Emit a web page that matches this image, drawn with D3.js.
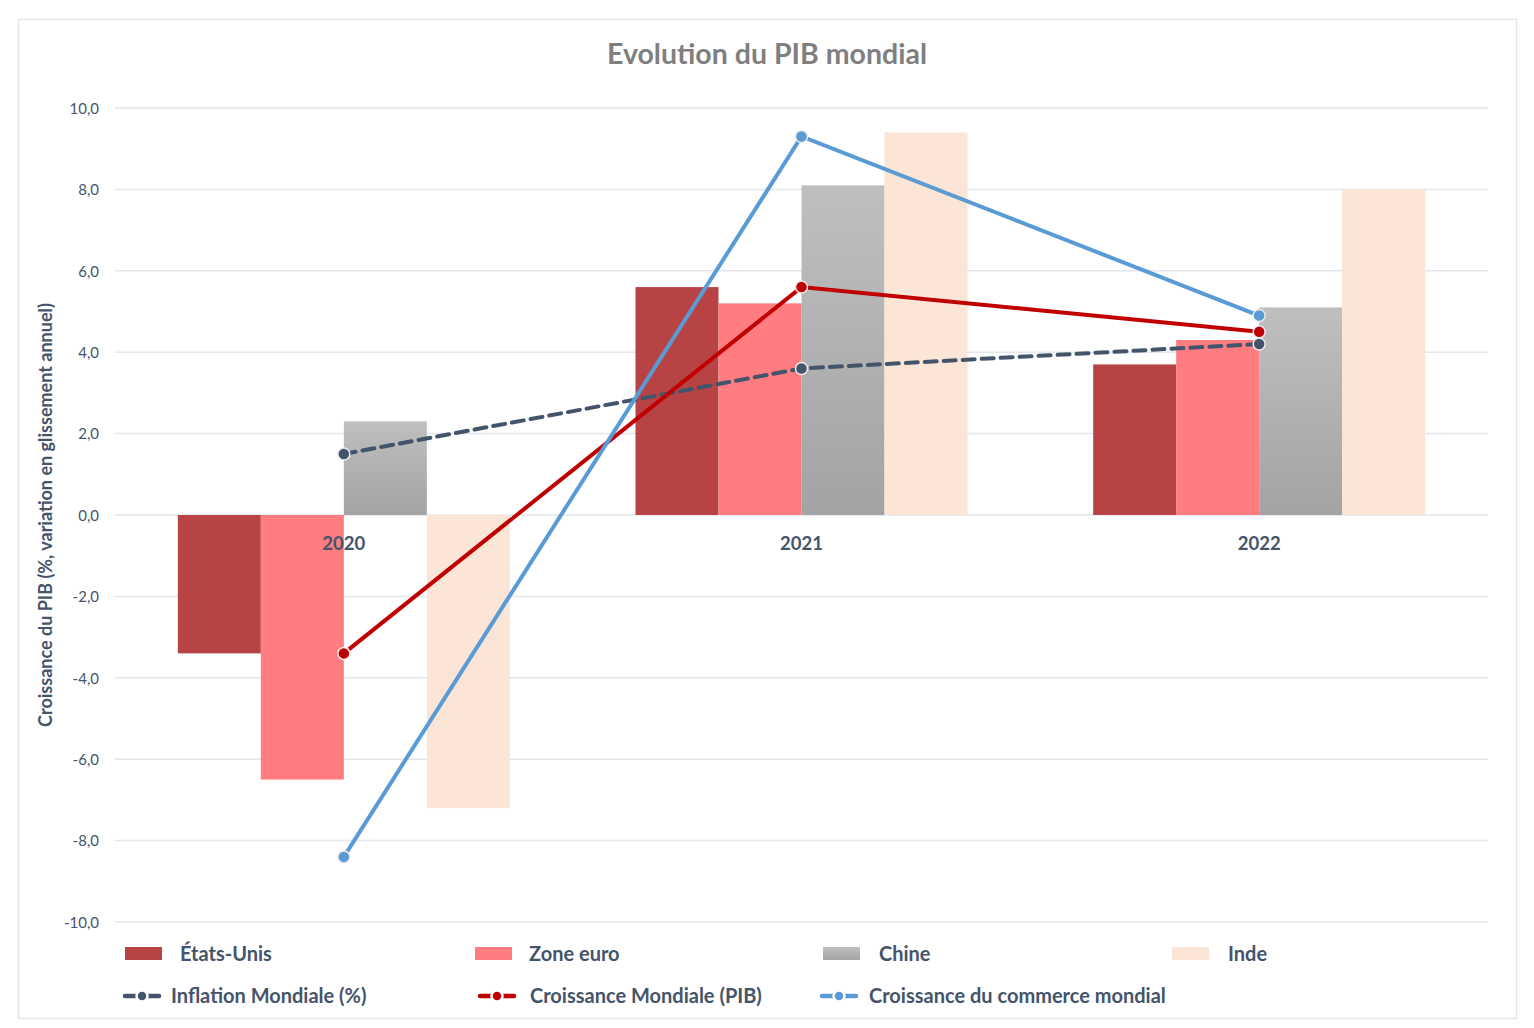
<!DOCTYPE html>
<html><head><meta charset="utf-8">
<script src="https://cdn.jsdelivr.net/npm/d3@7"></script>
<style>body{margin:0;background:#fff;font-family:Lato,"Open Sans",sans-serif;}</style>
</head><body>
<svg id="chart" width="1534" height="1028"></svg>
<script>
const categories = ["2020", "2021", "2022"];
const barSeries = ["États-Unis", "Zone euro", "Chine", "Inde"];
const etatsUnis = [-3.4, 5.6, 3.7];
const zoneEuro = [-6.5, 5.2, 4.3];
const chine = [2.3, 8.1, 5.1];
const inde = [-7.2, 9.4, 8.0];
const lineSeries = ["Inflation Mondiale (%)", "Croissance Mondiale (PIB)", "Croissance du commerce mondial"];
const inflation = [1.5, 3.6, 4.2];
const croissanceMondiale = [-3.4, 5.6, 4.5];
const commerceMondial = [-8.4, 9.3, 4.9];
const yTicks = [-10, -8, -6, -4, -2, 0, 2, 4, 6, 8, 10];

const barValues = [etatsUnis, zoneEuro, chine, inde];
const barColors = ["#b84344", "#ff7c80", "url(#gradChine)", "#fbe5d6"];
const lineValues = [inflation, croissanceMondiale, commerceMondial];
const lineColors = ["#44546a", "#c00000", "#5b9bd5"];

const svg = d3.select("#chart");
const defs = svg.append("defs");
const g1 = defs.append("linearGradient").attr("id", "gradChine").attr("x1", 0).attr("y1", 0).attr("x2", 0).attr("y2", 1);
g1.append("stop").attr("offset", "0%").attr("stop-color", "#bfbfbf");
g1.append("stop").attr("offset", "100%").attr("stop-color", "#a3a3a3");
const g2 = defs.append("linearGradient").attr("id", "gradChineLeg").attr("x1", 0).attr("y1", 0).attr("x2", 0).attr("y2", 1);
g2.append("stop").attr("offset", "0%").attr("stop-color", "#bfbfbf");
g2.append("stop").attr("offset", "100%").attr("stop-color", "#a3a3a3");

// frame
svg.append("rect").attr("x", 18.5).attr("y", 19.5).attr("width", 1498).attr("height", 999)
  .attr("fill", "#fff").attr("stroke", "#e3e6ec").attr("stroke-width", 1.5);

const left = 115, right = 1488;
const y = d3.scaleLinear().domain([-10, 10]).range([922, 108]);
const x0 = d3.scaleBand().domain(categories).range([left, right]).paddingInner(0).paddingOuter(0);
const groupW = 332;
const x1 = d3.scaleBand().domain(barSeries).range([0, groupW]).padding(0);
const cx = c => x0(c) + x0.bandwidth() / 2;

// title
svg.append("text").attr("x", 767).attr("y", 64).attr("text-anchor", "middle")
  .attr("font-size", 28.5).attr("font-weight", "bold").attr("fill", "#7f7f7f").text("Evolution du PIB mondial");

// gridlines
svg.append("g").selectAll("line").data(yTicks).join("line")
  .attr("x1", left).attr("x2", right).attr("y1", d => y(d)).attr("y2", d => y(d))
  .attr("stroke", "#e3e6ec").attr("stroke-width", 1.5);

// y axis
const yAxis = d3.axisLeft(y).tickValues(yTicks).tickSize(0).tickPadding(0)
  .tickFormat(d => d3.format(".1f")(d).replace(".", ",").replace("\u2212", "-"));
const ya = svg.append("g").attr("transform", "translate(99,0)").call(yAxis);
ya.select(".domain").remove();
ya.selectAll("text").attr("font-size", 15).attr("fill", "#44546a").attr("font-family", "Lato,sans-serif").attr("dy", "0.35em");

// y axis title
svg.append("text").attr("transform", "translate(52,515) rotate(-90)").attr("text-anchor", "middle")
  .attr("font-size", 18).attr("font-weight", "bold").attr("fill", "#44546a")
  .text("Croissance du PIB (%, variation en glissement annuel)");

// bars
barSeries.forEach((s, i) => {
  svg.append("g").selectAll("rect").data(categories).join("rect")
    .attr("x", c => cx(c) - groupW / 2 + x1(s))
    .attr("width", x1.bandwidth())
    .attr("y", (c, j) => y(Math.max(0, barValues[i][j])))
    .attr("height", (c, j) => Math.abs(y(barValues[i][j]) - y(0)))
    .attr("fill", barColors[i]);
});

// x axis labels
svg.append("g").selectAll("text").data(categories).join("text")
  .attr("x", c => cx(c)).attr("y", 550).attr("text-anchor", "middle")
  .attr("font-size", 18.5).attr("font-weight", "bold").attr("fill", "#44546a").text(c => c);

// lines
const lineGen = d3.line().x((d, j) => cx(categories[j])).y(d => y(d));
lineValues.forEach((vals, i) => {
  const g = svg.append("g");
  g.append("path").attr("d", lineGen(vals)).attr("fill", "none")
    .attr("stroke", lineColors[i]).attr("stroke-width", 4)
    .attr("stroke-dasharray", i === 0 ? "12,7" : null).attr("stroke-linecap", "round");
  g.selectAll("circle").data(vals).join("circle")
    .attr("cx", (d, j) => cx(categories[j])).attr("cy", d => y(d)).attr("r", 6)
    .attr("fill", lineColors[i]).attr("stroke", "#ececec").attr("stroke-width", 1.5);
});

// legend
const legBars = [[125, 180], [475, 529], [823, 879], [1172, 1228]];
const legBarColors = ["#b84344", "#ff7c80", "url(#gradChineLeg)", "#fbe5d6"];
barSeries.forEach((s, i) => {
  svg.append("rect").attr("x", legBars[i][0]).attr("y", 947).attr("width", 37).attr("height", 13).attr("fill", legBarColors[i]);
  svg.append("text").attr("x", legBars[i][1]).attr("y", 961).attr("font-size", 20).attr("font-weight", "bold")
    .attr("fill", "#44546a").text(s);
});
const legLines = [[123, 171], [478, 530], [820, 869]];
lineSeries.forEach((s, i) => {
  const lx = legLines[i][0];
  svg.append("line").attr("x1", lx + 2).attr("x2", lx + 36).attr("y1", 996).attr("y2", 996)
    .attr("stroke", lineColors[i]).attr("stroke-width", 4.5).attr("stroke-linecap", "round");
  svg.append("circle").attr("cx", lx + 19).attr("cy", 996).attr("r", 5.5).attr("fill", lineColors[i])
    .attr("stroke", "#ffffff").attr("stroke-width", 2.5);
  svg.append("text").attr("x", legLines[i][1]).attr("y", 1003).attr("font-size", 20).attr("font-weight", "bold")
    .attr("fill", "#44546a").text(s);
});
</script>
</body></html>
